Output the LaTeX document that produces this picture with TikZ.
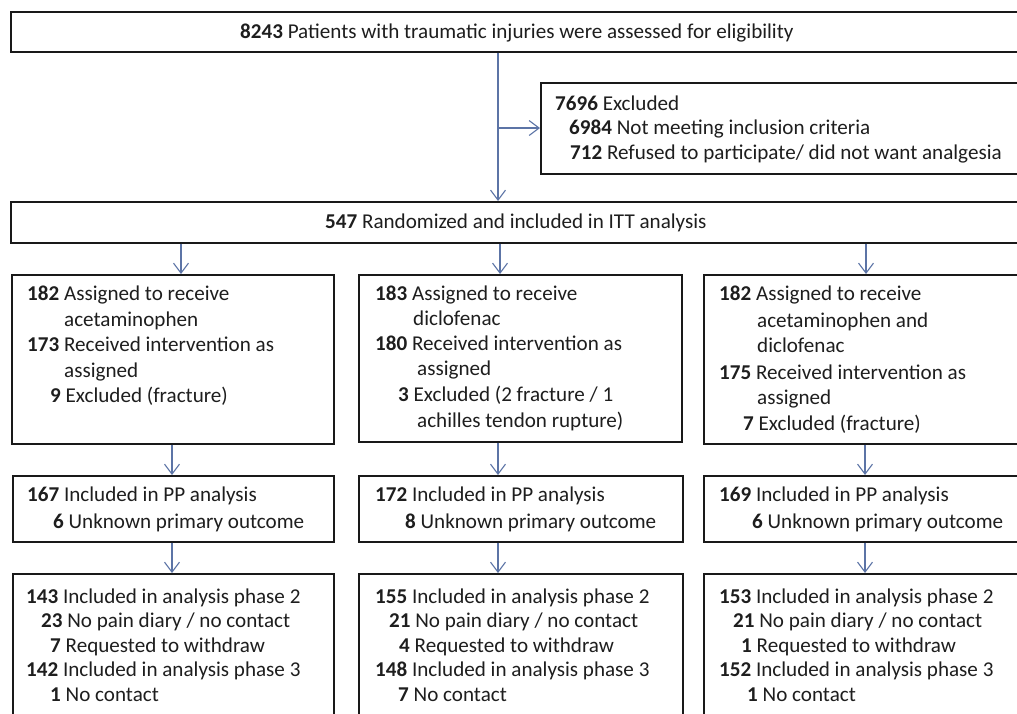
\documentclass[tikz,border=0pt]{standalone}
\usepackage{fontspec}
\setmainfont{Carlito}
\usetikzlibrary{arrows.meta}
\definecolor{arrowc}{RGB}{92,116,166}
\definecolor{txtc}{RGB}{30,30,30}
\definecolor{boxc}{RGB}{25,25,25}
\tikzset{
 box/.style={draw=boxc, line width=1.6pt, inner sep=0pt, anchor=north west},
 ln/.style={anchor=base west, inner sep=0pt, text=txtc, font=\fontsize{21.1}{25}\selectfont},
 arr/.style={draw=arrowc, line width=1.1pt, -{Straight Barb[length=10pt,width=15pt,line width=1.1pt]}},
}
\begin{document}
\begin{tikzpicture}[x=1pt,y=-1pt]
\useasboundingbox (0,0) rectangle (1017,713);
\clip (0,0) rectangle (1017,713);
\fill[white] (0,0) rectangle (1017,713);
% boxes
\node[box, minimum width=1020pt, minimum height=40pt] (top) at (10,11) {};
\node[box, minimum width=490pt, minimum height=91pt] (excl) at (540,82) {};
\node[box, minimum width=1020pt, minimum height=41pt] (itt) at (10,201) {};
\node[box, minimum width=322pt, minimum height=169pt] (a1) at (11,274) {};
\node[box, minimum width=323pt, minimum height=167pt] (a2) at (358,274) {};
\node[box, minimum width=330pt, minimum height=169pt] (a3) at (703,274) {};
\node[box, minimum width=321pt, minimum height=66pt] (p1) at (12,475) {};
\node[box, minimum width=324pt, minimum height=66pt] (p2) at (358,475) {};
\node[box, minimum width=330pt, minimum height=66pt] (p3) at (703,475) {};
\node[box, minimum width=321pt, minimum height=160pt] (f1) at (12,573) {};
\node[box, minimum width=324pt, minimum height=160pt] (f2) at (358,573) {};
\node[box, minimum width=330pt, minimum height=160pt] (f3) at (703,573) {};
% connectors
\coordinate (xm) at (498,0);
\coordinate (br) at (498,128);
\coordinate (xa1) at (181,0);
\coordinate (xa2) at (500,0);
\coordinate (xa3) at (866,0);
\coordinate (xb1) at (172,0);
\coordinate (xb2) at (498,0);
\coordinate (xb3) at (865,0);
\draw[arr] (top.south -| xm) -- (itt.north -| xm);
\draw[arr] (br) -- (br -| excl.west);
\draw[arr] (itt.south -| xa1) -- (a1.north -| xa1);
\draw[arr] (itt.south -| xa2) -- (a2.north -| xa2);
\draw[arr] (itt.south -| xa3) -- (a3.north -| xa3);
\draw[arr] (a1.south -| xb1) -- (p1.north -| xb1);
\draw[arr] (a2.south -| xb2) -- (p2.north -| xb2);
\draw[arr] (a3.south -| xb3) -- (p3.north -| xb3);
\draw[arr] (p1.south -| xb1) -- (f1.north -| xb1);
\draw[arr] (p2.south -| xb2) -- (f2.north -| xb2);
\draw[arr] (p3.south -| xb3) -- (f3.north -| xb3);
% texts
\node[ln] (ttop) at (240,38) {\textbf{8243} Patients with traumatic injuries were assessed for eligibility};
\node[ln] (e1) at (555,110) {\textbf{7696} Excluded};
\node[ln] (e2) at (569,134) {\textbf{6984} Not meeting inclusion criteria};
\node[ln] (e3) at (570,159) {\textbf{712} Refused to participate/ did not want analgesia};
\node[ln] (titt) at (325,228) {\textbf{547} Randomized and included in ITT analysis};
% arm 1
\node[ln] (a1l1) at (27,300) {\textbf{182} Assigned to receive};
\node[ln] (a1l2) at (64,326) {acetaminophen};
\node[ln] (a1l3) at (27,351) {\textbf{173} Received intervention as};
\node[ln] (a1l4) at (64,377) {assigned};
\node[ln] (a1l5) at (50,402) {\textbf{9} Excluded (fracture)};
% arm 2
\node[ln] (a2l1) at (375,300) {\textbf{183} Assigned to receive};
\node[ln] (a2l2) at (413,325) {diclofenac};
\node[ln] (a2l3) at (375,350) {\textbf{180} Received intervention as};
\node[ln] (a2l4) at (417,375) {assigned};
\node[ln] (a2l5) at (398,401) {\textbf{3} Excluded (2 fracture / 1};
\node[ln] (a2l6) at (417,427) {achilles tendon rupture)};
% arm 3
\node[ln] (a3l1) at (719,300) {\textbf{182} Assigned to receive};
\node[ln] (a3l2) at (757,327) {acetaminophen and};
\node[ln] (a3l3) at (757,352) {diclofenac};
\node[ln] (a3l4) at (719,379) {\textbf{175} Received intervention as};
\node[ln] (a3l5) at (757,404) {assigned};
\node[ln] (a3l6) at (743,430) {\textbf{7} Excluded (fracture)};
% PP
\node[ln] (p1l1) at (27,501) {\textbf{167} Included in PP analysis};
\node[ln] (p1l2) at (53,528) {\textbf{6} Unknown primary outcome};
\node[ln] (p2l1) at (375,501) {\textbf{172} Included in PP analysis};
\node[ln] (p2l2) at (405,528) {\textbf{8} Unknown primary outcome};
\node[ln] (p3l1) at (719,501) {\textbf{169} Included in PP analysis};
\node[ln] (p3l2) at (752,528) {\textbf{6} Unknown primary outcome};
% phase 1
\node[ln] (f1l1) at (26,603) {\textbf{143} Included in analysis phase 2};
\node[ln] (f1l2) at (41,627.5) {\textbf{23} No pain diary / no contact};
\node[ln] (f1l3) at (50,652) {\textbf{7} Requested to withdraw};
\node[ln] (f1l4) at (26,676.5) {\textbf{142} Included in analysis phase 3};
\node[ln] (f1l5) at (50,701) {\textbf{1} No contact};
% phase 2
\node[ln] (f2l1) at (375,603) {\textbf{155} Included in analysis phase 2};
\node[ln] (f2l2) at (389,627.5) {\textbf{21} No pain diary / no contact};
\node[ln] (f2l3) at (399,652) {\textbf{4} Requested to withdraw};
\node[ln] (f2l4) at (375,676.5) {\textbf{148} Included in analysis phase 3};
\node[ln] (f2l5) at (398,701) {\textbf{7} No contact};
% phase 3
\node[ln] (f3l1) at (719,603) {\textbf{153} Included in analysis phase 2};
\node[ln] (f3l2) at (733,627.5) {\textbf{21} No pain diary / no contact};
\node[ln] (f3l3) at (741,652) {\textbf{1} Requested to withdraw};
\node[ln] (f3l4) at (719,676.5) {\textbf{152} Included in analysis phase 3};
\node[ln] (f3l5) at (747,701) {\textbf{1} No contact};
\end{tikzpicture}
\end{document}
